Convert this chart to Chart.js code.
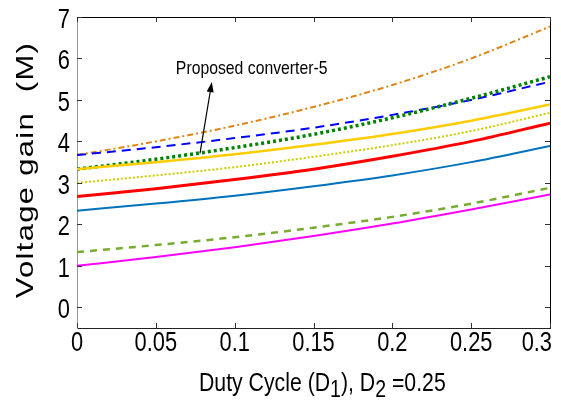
<!DOCTYPE html>
<html>
<head>
<meta charset="utf-8">
<script src="https://cdn.jsdelivr.net/npm/chart.js@4.4.0/dist/chart.umd.min.js"></script>
<style>
  html, body { margin: 0; padding: 0; background: #fff; }
  #wrap { width: 561px; height: 401px; }
</style>
</head>
<body>
<div id="wrap"><canvas id="gainChart" width="561" height="401"></canvas></div>
<script>
// duty cycle D1 (x axis), D2 fixed at 0.25
const dutyCycle = [0, 0.05, 0.1, 0.15, 0.2, 0.25, 0.3];

// voltage gain curves
const gainOrange       = [3.67, 4.00, 4.38, 4.83, 5.36, 6.00, 6.77];
const gainBlueDashed   = [3.67, 3.86, 4.08, 4.33, 4.64, 5.00, 5.44];
const gainGreenDotted  = [3.33, 3.57, 3.85, 4.17, 4.57, 5.04, 5.56];
const gainYellow       = [3.33, 3.50, 3.69, 3.92, 4.18, 4.50, 4.89];
const gainYellowDotted = [3.00, 3.18, 3.38, 3.63, 3.91, 4.25, 4.69];
const gainRed          = [2.67, 2.86, 3.08, 3.33, 3.64, 4.00, 4.44];
const gainBlue         = [2.33, 2.50, 2.69, 2.92, 3.18, 3.50, 3.89];
const gainGreenDashed  = [1.33, 1.50, 1.69, 1.92, 2.18, 2.50, 2.88];
const gainMagenta      = [1.00, 1.21, 1.45, 1.72, 2.02, 2.36, 2.72];

const xTicks = [0, 0.05, 0.1, 0.15, 0.2, 0.25, 0.3];
const xTickLabels = ['0', '0.05', '0.1', '0.15', '0.2', '0.25', '0.3'];
const yTicks = [0, 1, 2, 3, 4, 5, 6, 7];

const regular = "'Liberation Sans', Arial, sans-serif";

const pts = arr => arr.map((y, i) => ({ x: dutyCycle[i], y: y }));

function series(values, color, width, dash) {
    return {
        data: pts(values),
        borderColor: color,
        borderWidth: width,
        borderDash: dash,
        pointRadius: 0,
        fill: false,
        cubicInterpolationMode: 'monotone'
    };
}

// the figure's text is condensed, so squeeze it horizontally
function squeezed(ctx, text, x, y, sx, align) {
    ctx.save();
    ctx.translate(x, y);
    ctx.scale(sx, 1);
    ctx.textAlign = align;
    ctx.fillText(text, 0, 0);
    ctx.restore();
}

// inward ticks on all four sides, frame and tick labels
const boxTicks = {
    id: 'boxTicks',
    afterDraw(chart) {
        const { ctx, chartArea: a, scales } = chart;
        ctx.save();
        ctx.strokeStyle = '#000';
        ctx.lineWidth = 1;
        ctx.beginPath();
        ctx.moveTo(a.left, a.top + 0.5);
        ctx.lineTo(a.right + 0.5, a.top + 0.5);
        ctx.lineTo(a.right + 0.5, a.bottom);
        ctx.stroke();
        ctx.strokeStyle = '#333';
        ctx.beginPath();
        xTicks.forEach(v => {
            const px = Math.round(scales.x.getPixelForValue(v)) + 0.5;
            ctx.moveTo(px, a.bottom); ctx.lineTo(px, a.bottom - 5);
            ctx.moveTo(px, a.top); ctx.lineTo(px, a.top + 5);
        });
        yTicks.forEach(v => {
            const py = Math.round(scales.y.getPixelForValue(v)) + 0.5;
            ctx.moveTo(a.left, py); ctx.lineTo(a.left + 5, py);
            ctx.moveTo(a.right, py); ctx.lineTo(a.right - 5, py);
        });
        ctx.stroke();

        ctx.fillStyle = '#000';
        ctx.font = '28px ' + regular;
        ctx.textBaseline = 'middle';
        xTicks.forEach((v, i) => {
            const px = scales.x.getPixelForValue(v);
            if (i === xTicks.length - 1) {
                squeezed(ctx, xTickLabels[i], a.right + 2, a.bottom + 15, 0.78, 'right');
            } else {
                squeezed(ctx, xTickLabels[i], px, a.bottom + 15, 0.78, 'center');
            }
        });
        yTicks.forEach(v => {
            squeezed(ctx, String(v), a.left - 7, scales.y.getPixelForValue(v) + 3, 0.78, 'right');
        });
        ctx.restore();
    }
};

// axis titles (x title needs subscripts)
const axisTitles = {
    id: 'axisTitles',
    afterDraw(chart) {
        const { ctx } = chart;
        ctx.save();
        ctx.fillStyle = '#000';
        ctx.translate(27, 170);
        ctx.rotate(-Math.PI / 2);
        ctx.scale(1, 0.75);
        ctx.font = '31px ' + regular;
        ctx.letterSpacing = '1.3px';
        ctx.textAlign = 'center';
        ctx.textBaseline = 'middle';
        ctx.fillText('Voltage gain  (M)', 0, 0);
        ctx.restore();

        const parts = [
            ['Duty Cycle (D', false], ['1', true], ['), D', false], ['2', true], [' =0.25', false]
        ];
        const big = '25px ' + regular, small = '23px ' + regular;
        ctx.save();
        ctx.fillStyle = '#000';
        ctx.textBaseline = 'alphabetic';
        ctx.translate(199, 391);
        ctx.scale(0.85, 1);
        let x = 0;
        parts.forEach(p => {
            ctx.font = p[1] ? small : big;
            ctx.fillText(p[0], x, p[1] ? 6 : 0);
            x += ctx.measureText(p[0]).width;
        });
        ctx.restore();
    }
};

// "Proposed converter-5" label with arrow
const callout = {
    id: 'callout',
    afterDatasetsDraw(chart) {
        const { ctx, scales: { x, y } } = chart;
        const x0 = x.getPixelForValue(0.078), y0 = y.getPixelForValue(3.71);
        const x1 = x.getPixelForValue(0.0855), y1 = y.getPixelForValue(5.43);
        const ang = Math.atan2(y1 - y0, x1 - x0);
        ctx.save();
        ctx.strokeStyle = '#000';
        ctx.fillStyle = '#000';
        ctx.lineWidth = 1.2;
        ctx.beginPath();
        ctx.moveTo(x0, y0);
        ctx.lineTo(x1 - 8 * Math.cos(ang), y1 - 8 * Math.sin(ang));
        ctx.stroke();
        ctx.beginPath();
        ctx.moveTo(x1, y1);
        ctx.lineTo(x1 - 10 * Math.cos(ang) + 3.5 * Math.sin(ang), y1 - 10 * Math.sin(ang) - 3.5 * Math.cos(ang));
        ctx.lineTo(x1 - 10 * Math.cos(ang) - 3.5 * Math.sin(ang), y1 - 10 * Math.sin(ang) + 3.5 * Math.cos(ang));
        ctx.closePath();
        ctx.fill();
        ctx.font = '19px ' + regular;
        ctx.textBaseline = 'middle';
        squeezed(ctx, 'Proposed converter-5', x.getPixelForValue(0.0627), y.getPixelForValue(5.74), 0.83, 'left');
        ctx.restore();
    }
};

new Chart(document.getElementById('gainChart'), {
    type: 'line',
    data: {
        datasets: [
            series(gainMagenta, '#FF00FF', 2, []),
            series(gainGreenDashed, '#77AC30', 2.5, [7, 6]),
            series(gainBlue, '#0072BD', 2, []),
            series(gainRed, '#FF0000', 3, []),
            series(gainYellowDotted, '#CCCC00', 2, [2, 2]),
            series(gainYellow, '#FFCC00', 2.5, []),
            series(gainGreenDotted, '#008000', 3.5, [3, 3]),
            series(gainBlueDashed, '#0000FF', 2, [9, 6]),
            series(gainOrange, '#DD8615', 2, [6, 3, 2, 3])
        ]
    },
    options: {
        responsive: false,
        animation: false,
        devicePixelRatio: 1,
        layout: { padding: { left: 0, right: 11, top: 17, bottom: 0 }, autoPadding: false },
        plugins: { legend: { display: false }, tooltip: { enabled: false } },
        scales: {
            x: {
                type: 'linear',
                min: 0,
                max: 0.3,
                afterBuildTicks: s => { s.ticks = xTicks.map(v => ({ value: v })); },
                afterFit: s => { s.height = 73; },
                grid: { display: false, drawTicks: false },
                border: { display: true, color: '#222', width: 1 },
                ticks: { display: false }
            },
            y: {
                type: 'linear',
                min: -0.5,
                max: 7,
                afterBuildTicks: s => { s.ticks = yTicks.map(v => ({ value: v })); },
                afterFit: s => { s.width = 77; },
                grid: { display: false, drawTicks: false },
                border: { display: true, color: '#999', width: 1 },
                ticks: { display: false }
            }
        }
    },
    plugins: [boxTicks, axisTitles, callout]
});
</script>
</body>
</html>
